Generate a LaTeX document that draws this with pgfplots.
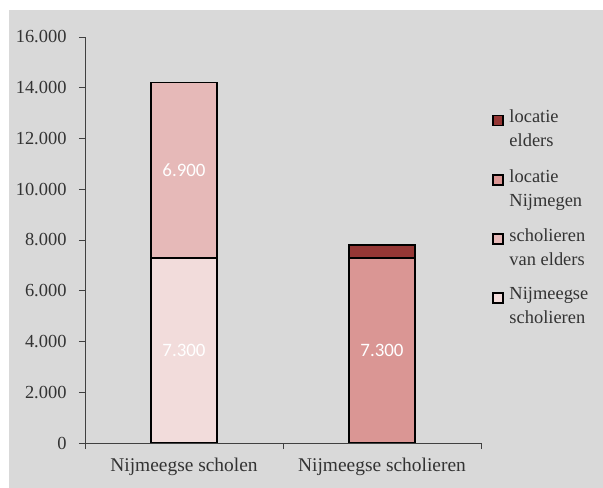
\documentclass[border=0pt]{standalone}
\usepackage{pgfplots}
\pgfplotsset{compat=1.18}
\usepackage{fontspec}
\setmainfont{Liberation Serif}
\newfontfamily\labelfont{Carlito}
\definecolor{bg}{HTML}{D9D9D9}
\definecolor{axisgray}{HTML}{404040}
\definecolor{cA}{HTML}{F2DCDB}
\definecolor{cB}{HTML}{E6B9B8}
\definecolor{cC}{HTML}{DA9694}
\definecolor{cD}{HTML}{953735}
\pgfplotsset{
  mylegend/.style={legend image code/.code={\draw[##1, draw=black, line width=1.4pt] (0bp,3.5bp) rectangle (10bp,13.5bp);}}
}
\begin{document}
\begin{tikzpicture}
\useasboundingbox (0bp,0bp) rectangle (603bp,488bp);
\fill[bg] (9bp,0bp) rectangle (603bp,478bp);
\begin{axis}[
  at={(85bp,45bp)}, anchor=south west,
  scale only axis, width=396bp, height=406bp,
  xmin=-0.5, xmax=1.5, ymin=0, ymax=16000,
  ybar stacked, bar width=66bp,
  axis x line=bottom, axis y line=left,
  axis line style={draw=axisgray, line width=0.9pt, -},
  tick style={draw=axisgray, line width=0.9pt},
  tick align=outside, major tick length=6bp,
  ytick={0,2000,...,16000},
  scaled y ticks=false,
  /pgf/number format/.cd, 1000 sep={.}, assume math mode=true,
  /pgfplots/.cd,
  xtick={-0.5,0.5,1.5}, xticklabels={},
  extra x ticks={0,1},
  extra x tick labels={Nijmeegse scholen, Nijmeegse scholieren},
  extra x tick style={major tick length=0pt},
  ticklabel style={font=\fontsize{18.5}{22}\selectfont, text=axisgray!80!black},
  yticklabel style={xshift=-9bp},
  xticklabel style={yshift=-12bp, font=\fontsize{19.5}{22}\selectfont},
  nodes near coords,
  point meta=explicit symbolic,
  every node near coord/.append style={anchor=center, font=\labelfont\fontsize{19}{19}\selectfont, text=white},
  reverse legend,
  legend cell align=left,
  legend style={at={(1.02,0.83)}, anchor=north west, draw=none, fill=none,
     font=\fontsize{18.5}{24}\selectfont, text=axisgray!80!black, cells={align=left}, row sep=17bp,
     /tikz/every odd column/.append style={column sep=4bp}},
]
\addplot[fill=cA, draw=black, line width=1.5pt, mylegend] coordinates {(0,7300) [7.300] (1,0) []};
\addplot[fill=cB, draw=black, line width=1.5pt, mylegend] coordinates {(0,6900) [6.900] (1,0) []};
\addplot[fill=cC, draw=black, line width=1.5pt, mylegend] coordinates {(0,0) [] (1,7300) [7.300]};
\addplot[fill=cD, draw=black, line width=1.5pt, mylegend] coordinates {(0,0) [] (1,500) []};
\legend{Nijmeegse\\scholieren, scholieren\\van elders, locatie\\Nijmegen, locatie\\elders}
\end{axis}
\end{tikzpicture}
\end{document}
